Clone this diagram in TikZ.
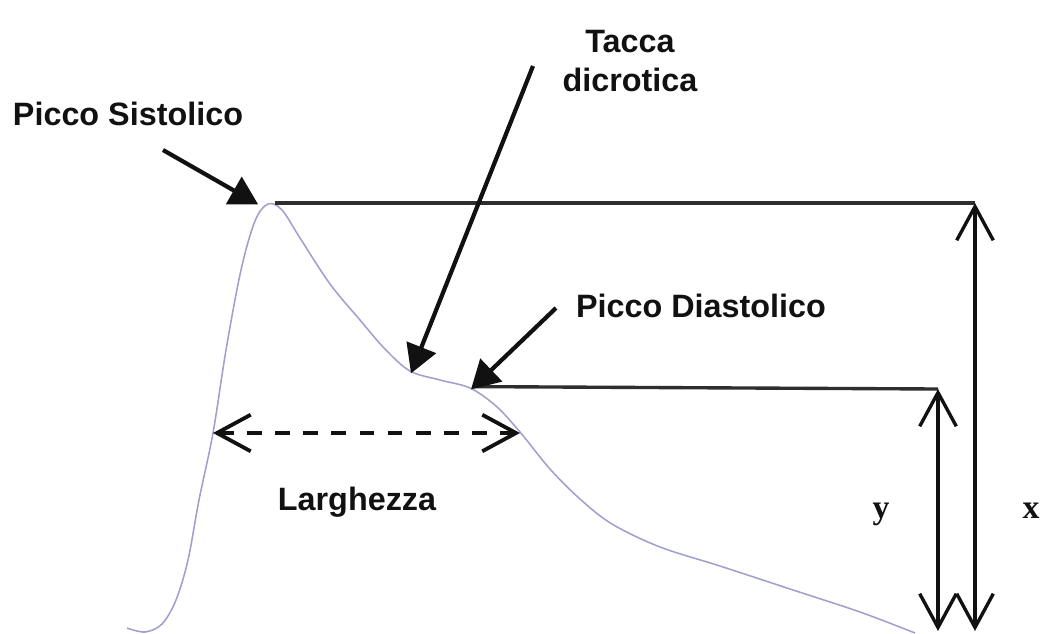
\documentclass[tikz,border=0pt]{standalone}
\usepackage{fontspec}
\setmainfont{Liberation Sans}
\newfontfamily\serifbf{Liberation Serif}
\usetikzlibrary{arrows.meta, positioning}
\definecolor{wave}{HTML}{A0A0CE}
\definecolor{ink}{HTML}{111111}
\definecolor{rule}{HTML}{2E2E2E}

\begin{document}
\begin{tikzpicture}[x=0.025cm, y=-0.025cm, line width=2.4pt,
  label/.style={font=\fontsize{23}{28}\selectfont\bfseries, text=ink, align=center, inner sep=0pt},
  axlabel/.style={font=\serifbf\fontsize{24}{28}\selectfont\bfseries, text=ink, inner sep=0pt},
  pointer/.style={ink, line width=3pt, -{Triangle[length=20pt, width=22pt]}},
  measure/.style={ink, {Straight Barb[length=24pt, width=26pt]}-{Straight Barb[length=24pt, width=26pt]}}]

% Canvas
\useasboundingbox (0,0) rectangle (1040,633);

% --- Pulse wave ---
\draw[wave, line width=1.1pt] plot[smooth, tension=0.55] coordinates {
  (127,628) (145,632) (162,624) (176,600) (188,560) (199,500) (213,433)
  (226,350) (241,270) (255,221) (268,204) (282,210) (300,238) (330,284)
  (360,320) (385,349) (410,371) (440,380) (470,388) (496,406) (520,432)
  (550,469) (580,499) (612,524) (660,547) (720,566) (790,589) (860,612)
  (915,633)};

% Key points on the wave
\coordinate (sist) at (268,203);
\coordinate (notch) at (411,372);
\coordinate (diast) at (471,388);

% --- Reference lines ---
\coordinate (xtop) at (975,203);
\coordinate (xbot) at (975,631);
\coordinate (ytop) at (938,389);
\coordinate (ybot) at (938,631);
\draw[rule] ([xshift=5]sist) -- (xtop);
\draw[rule] ([xshift=2,yshift=1]diast) -- (ytop);

% Amplitude arrows
\draw[measure] (xbot) -- (xtop);
\draw[measure] (ybot) -- (ytop);

% Width of the systolic peak
\coordinate (wl) at (213,433);
\coordinate (wr) at (520,433);
\draw[measure, line width=2.7pt, dash pattern=on 10.5pt off 9.5pt] (wl) -- (wr);

% --- Labels ---
\node[label, anchor=base] (lsist) at (128,125) {Picco Sistolico};
\node[label] (ltacca) at (630,61) {Tacca\\dicrotica};
\node[label, anchor=base] (ldiast) at (701,317) {Picco Diastolico};
\node[label, anchor=base] (llargh) at (357,510) {Larghezza};
\node[axlabel, anchor=base] (ly) at (881,518) {y};
\node[axlabel, anchor=base] (lx) at (1031,518) {x};

% --- Pointers ---
\coordinate (sistTail) at (163,150);
\coordinate (tacTail) at (533,66);
\coordinate (diaTail) at (556,308);
\draw[pointer] (sistTail) -- ([xshift=-7,yshift=-1]sist);
\draw[pointer] (tacTail) -- ([yshift=-1]notch);
\draw[pointer] (diaTail) -- ([yshift=-1]diast);

\end{tikzpicture}
\end{document}
